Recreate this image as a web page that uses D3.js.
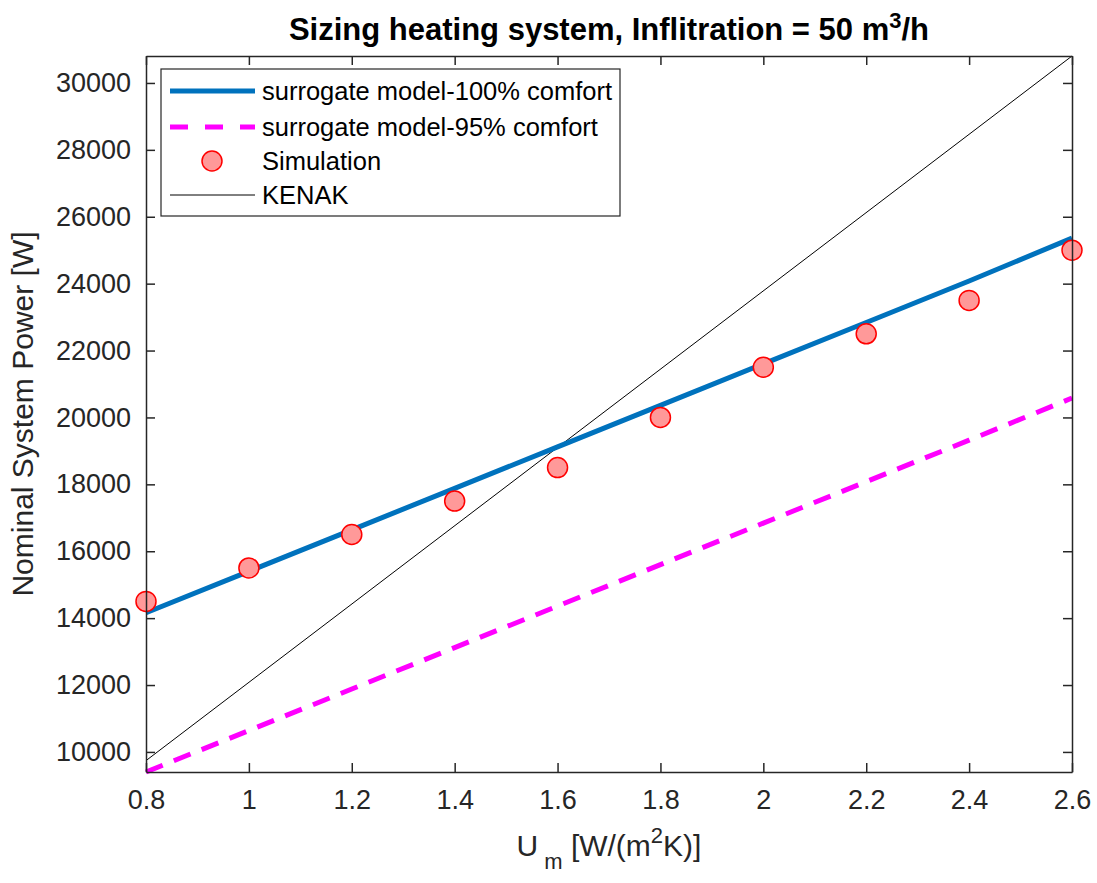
<!DOCTYPE html>
<html>
<head>
<meta charset="utf-8">
<script src="https://cdn.jsdelivr.net/npm/d3@7"></script>
<style>
  body { margin: 0; background: #fff; }
  text { font-family: "Liberation Sans", Arial, sans-serif; }
</style>
</head>
<body>
<svg width="1097" height="883"></svg>
<script>
// data
var uValues = [0.8, 1.0, 1.2, 1.4, 1.6, 1.8, 2.0, 2.2, 2.4, 2.6]
var surrogate100 = [14160, 15400, 16640, 17880, 19120, 20360, 21600, 22840, 24080, 25360]
var surrogate95 = [9400, 10640, 11880, 13120, 14360, 15600, 16840, 18080, 19320, 20580]
var simulation = [14500, 15500, 16500, 17500, 18500, 20000, 21500, 22500, 23500, 25000]
var kenakU = [0.8, 2.6]
var kenak = [9740, 30806]
var xTicks = [0.8, 1, 1.2, 1.4, 1.6, 1.8, 2, 2.2, 2.4, 2.6]
var yTicks = [10000, 12000, 14000, 16000, 18000, 20000, 22000, 24000, 26000, 28000, 30000]
var legendNames = ['surrogate model-100% comfort', 'surrogate model-95% comfort', 'Simulation', 'KENAK']

var svg = d3.select('svg')
var mLeft = 146, mRight = 1072, mTop = 56, mBottom = 772
var axisColor = '#262626'

var x = d3.scaleLinear().domain([0.8, 2.6]).range([mLeft, mRight])
var y = d3.scaleLinear().domain([9400, 30806]).range([mBottom, mTop])

var line = d3.line()
  .x(function(d) { return x(d[0]) })
  .y(function(d) { return y(d[1]) })

var plot = svg.append('g')

// KENAK
plot.append('path')
  .datum(d3.zip(kenakU, kenak))
  .attr('d', line)
  .attr('fill', 'none')
  .attr('stroke', '#000')
  .attr('stroke-width', 1)

// surrogate 100%
plot.append('path')
  .datum(d3.zip(uValues, surrogate100))
  .attr('d', line)
  .attr('fill', 'none')
  .attr('stroke', '#0072BD')
  .attr('stroke-width', 5)

// surrogate 95%
plot.append('path')
  .datum(d3.zip(uValues, surrogate95))
  .attr('d', line)
  .attr('fill', 'none')
  .attr('stroke', '#FF00FF')
  .attr('stroke-width', 5)
  .attr('stroke-dasharray', '18,12')

// simulation markers
plot.selectAll('circle.sim')
  .data(d3.zip(uValues, simulation))
  .enter().append('circle')
  .attr('class', 'sim')
  .attr('cx', function(d) { return x(d[0]) })
  .attr('cy', function(d) { return y(d[1]) })
  .attr('r', 10)
  .attr('fill', '#FF9999')
  .attr('stroke', '#FF0000')
  .attr('stroke-width', 1.5)

// axes box
var fmtX = function(d) { return String(d) }
var gx = svg.append('g').attr('transform', 'translate(0,' + mBottom + ')')
  .call(d3.axisBottom(x).tickValues(xTicks).tickFormat(fmtX).tickSizeInner(-9).tickSizeOuter(0).tickPadding(18))
var gxt = svg.append('g').attr('transform', 'translate(0,' + mTop + ')')
  .call(d3.axisTop(x).tickValues(xTicks).tickFormat('').tickSizeInner(-9).tickSizeOuter(0))
var gy = svg.append('g').attr('transform', 'translate(' + mLeft + ',0)')
  .call(d3.axisLeft(y).tickValues(yTicks).tickFormat(d3.format('d')).tickSizeInner(-9).tickSizeOuter(0).tickPadding(15))
var gyr = svg.append('g').attr('transform', 'translate(' + mRight + ',0)')
  .call(d3.axisRight(y).tickValues(yTicks).tickFormat('').tickSizeInner(-9).tickSizeOuter(0))

;[gx, gxt, gy, gyr].forEach(function(g) {
  g.select('.domain').attr('stroke', axisColor).attr('stroke-width', 1.5)
  g.selectAll('.tick line').attr('stroke', axisColor).attr('stroke-width', 1.5)
  g.selectAll('.tick text').attr('fill', axisColor).style('font-size', '27px')
})

// title
var title = svg.append('text')
  .attr('x', (mLeft + mRight) / 2).attr('y', 40)
  .attr('text-anchor', 'middle')
  .style('font-size', '31px').style('font-weight', 'bold')
  .attr('fill', '#000')
title.append('tspan').text('Sizing heating system, Inflitration = 50 m')
title.append('tspan').attr('dy', -12).style('font-size', '22px').text('3')
title.append('tspan').attr('dy', 12).text('/h')

// x label
var xl = svg.append('text')
  .attr('x', (mLeft + mRight) / 2).attr('y', 856)
  .attr('text-anchor', 'middle')
  .style('font-size', '30px').attr('fill', axisColor)
xl.append('tspan').text('U')
xl.append('tspan').attr('dy', 13).attr('dx', 6).style('font-size', '22px').text('m')
xl.append('tspan').attr('dy', -13).text(' [W/(m')
xl.append('tspan').attr('dy', -13).style('font-size', '22px').text('2')
xl.append('tspan').attr('dy', 13).text('K)]')

// y label
svg.append('text')
  .attr('transform', 'translate(33,' + ((mTop + mBottom) / 2) + ') rotate(-90)')
  .attr('text-anchor', 'middle')
  .style('font-size', '30px').attr('fill', axisColor)
  .text('Nominal System Power [W]')

// legend
var lg = svg.append('g')
lg.append('rect')
  .attr('x', 161).attr('y', 69).attr('width', 459).attr('height', 147)
  .attr('fill', '#fff').attr('stroke', axisColor).attr('stroke-width', 1.2)

var rowY = [91, 127, 161, 195]
var rows = lg.selectAll('g.row').data(legendNames).enter().append('g')
  .attr('transform', function(d, i) { return 'translate(0,' + rowY[i] + ')' })
rows.append('text')
  .attr('x', 262).attr('y', 9)
  .style('font-size', '25.5px').attr('fill', '#000')
  .text(function(d) { return d })

var r0 = d3.select(rows.nodes()[0])
r0.append('line').attr('x1', 170).attr('x2', 255).attr('stroke', '#0072BD').attr('stroke-width', 5)
var r1 = d3.select(rows.nodes()[1])
r1.append('line').attr('x1', 170).attr('x2', 255).attr('stroke', '#FF00FF').attr('stroke-width', 5).attr('stroke-dasharray', '18,17')
var r2 = d3.select(rows.nodes()[2])
r2.append('circle').attr('cx', 212).attr('r', 10).attr('fill', '#FF9999').attr('stroke', '#FF0000').attr('stroke-width', 1.5)
var r3 = d3.select(rows.nodes()[3])
r3.append('line').attr('x1', 170).attr('x2', 255).attr('stroke', '#000').attr('stroke-width', 1)
</script>
</body>
</html>
